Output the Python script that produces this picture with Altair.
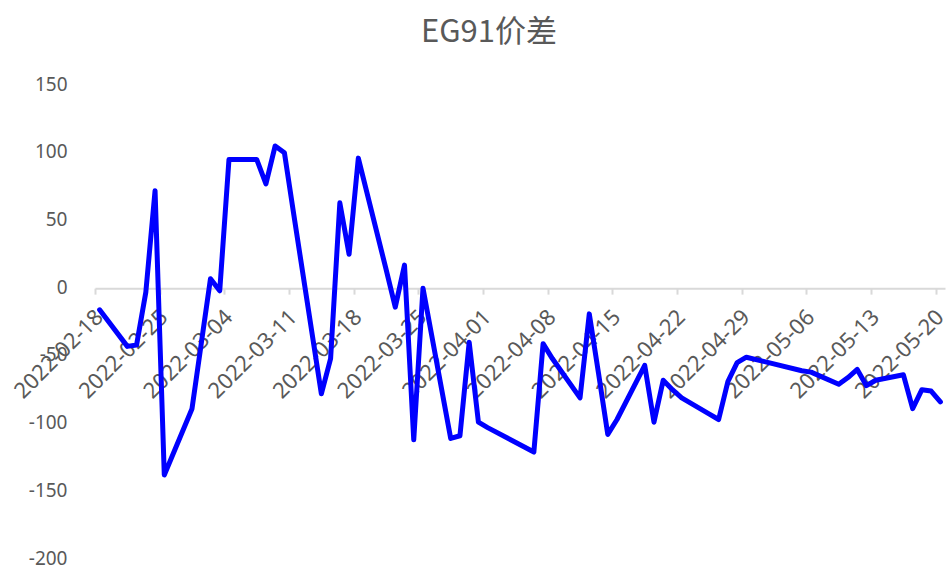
import altair as alt
import pandas as pd

dates = ["2022-02-18", "2022-02-21", "2022-02-22", "2022-02-23", "2022-02-24", "2022-02-25",
         "2022-02-28", "2022-03-01", "2022-03-02", "2022-03-03", "2022-03-04",
         "2022-03-07", "2022-03-08", "2022-03-09", "2022-03-10", "2022-03-11",
         "2022-03-14", "2022-03-15", "2022-03-16", "2022-03-17", "2022-03-18",
         "2022-03-21", "2022-03-22", "2022-03-23", "2022-03-24", "2022-03-25",
         "2022-03-28", "2022-03-29", "2022-03-30", "2022-03-31", "2022-04-01",
         "2022-04-06", "2022-04-07", "2022-04-08",
         "2022-04-11", "2022-04-12", "2022-04-13", "2022-04-14", "2022-04-15",
         "2022-04-18", "2022-04-19", "2022-04-20", "2022-04-21", "2022-04-22",
         "2022-04-25", "2022-04-26", "2022-04-27", "2022-04-28", "2022-04-29",
         "2022-05-05", "2022-05-06",
         "2022-05-09", "2022-05-10", "2022-05-11", "2022-05-12", "2022-05-13",
         "2022-05-16", "2022-05-17", "2022-05-18", "2022-05-19", "2022-05-20"]
values = [-16, -43, -42, -3, 72, -138,
          -89, -41, 7, -2, 95,
          95, 77, 105, 100, 55,
          -78, -52, 63, 25, 96,
          14, -14, 17, -112, 0,
          -111, -109, -40, -99, -103,
          -121, -41, -52,
          -81, -19, -63, -108, -97,
          -57, -99, -68, -75, -81,
          -93, -97, -69, -55, -51,
          -61, -62,
          -71, -66, -60, -72, -68,
          -64, -89, -75, -76, -84]
tick_dates = ["2022-02-18", "2022-02-25", "2022-03-04", "2022-03-11", "2022-03-18",
              "2022-03-25", "2022-04-01", "2022-04-08", "2022-04-15", "2022-04-22",
              "2022-04-29", "2022-05-06", "2022-05-13", "2022-05-20"]
y_ticks = [-200, -150, -100, -50, 0, 50, 100, 150]

df = pd.DataFrame({"date": dates, "value": values})

W, H = 850, 474
y_min, y_max = -200, 150
zero_from_bottom = H * (0 - y_min) / (y_max - y_min)


def dt(s):
    y, m, d = map(int, s.split("-"))
    return alt.DateTime(year=y, month=m, date=d, utc=True)


label_color = "#595959"
font = "Noto Sans"

chart = (
    alt.Chart(df)
    .transform_calculate(t="toDate(datum.date) + 43200000")
    .mark_line(color="#0000FF", strokeWidth=5, strokeJoin="round", strokeCap="round")
    .encode(
        x=alt.X(
            "t:T",
            scale=alt.Scale(type="utc", domain=[dt("2022-02-18"), dt("2022-05-21")]),
            axis=alt.Axis(
                title=None,
                values=[dt(s) for s in tick_dates],
                labelExpr="utcFormat(datum.value, '%Y-%m-%d')",
                labelAngle=-45,
                labelAlign="right",
                labelBaseline="middle",
                labelPadding=19,
                labelOffset=4,
                labelFontSize=22,
                labelFont=font,
                labelColor=label_color,
                labelOverlap=False,
                labelFlush=False,
                domainColor="#d9d9d9",
                domainWidth=2,
                tickColor="#d9d9d9",
                tickWidth=2,
                tickSize=6,
                grid=False,
                offset=-zero_from_bottom,
                zindex=0,
            ),
        ),
        y=alt.Y(
            "value:Q",
            scale=alt.Scale(domain=[y_min, y_max], nice=False, zero=False),
            axis=alt.Axis(
                title=None,
                values=y_ticks,
                labelExpr="'' + datum.value",
                labelFontSize=19,
                labelFont=font,
                labelColor=label_color,
                labelPadding=28,
                labelOffset=-1,
                domain=False,
                ticks=False,
                grid=False,
            ),
        ),
    )
    .properties(
        width=W,
        height=H,
        background="white",
        autosize=alt.AutoSizeParams(type="none"),
        padding={"left": 95, "top": 85, "right": 1, "bottom": 10},
        title=alt.TitleParams(
            "EG91价差",
            font="Noto Sans CJK SC",
            fontSize=31,
            fontWeight="normal",
            color=label_color,
            anchor="middle",
            dx=-31,
            offset=26,
        ),
    )
    .configure_view(strokeWidth=0, stroke="transparent")
)

chart.save("out.html", embed_options={"renderer": "svg", "actions": False})
